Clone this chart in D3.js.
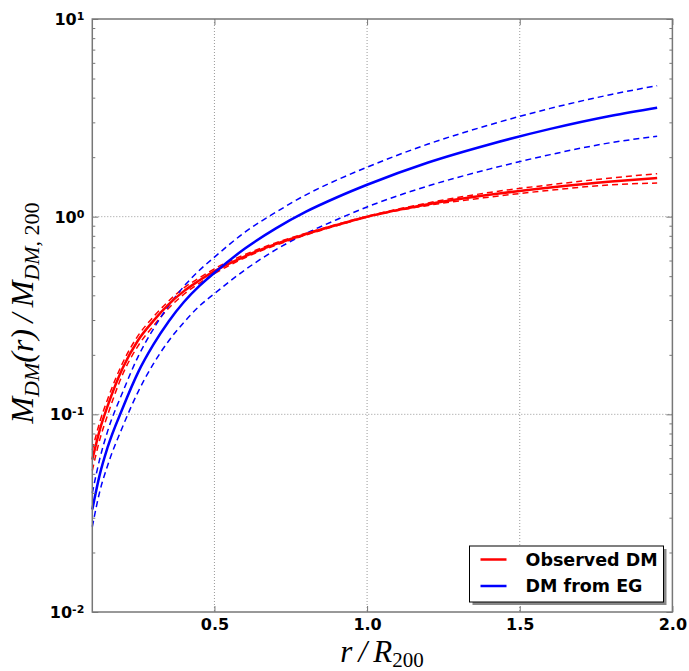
<!DOCTYPE html>
<meta charset="utf-8">
<style>
  body { margin: 0; background: #fff; }
  .tick text { font-family: "DejaVu Sans", sans-serif; font-weight: bold; font-size: 16px; fill: #000; }
  .axis path { display: none; }
  .axis line { stroke: #777; stroke-width: 1; }
  .grid line { stroke: #999; stroke-dasharray: 1,2; }
</style>
<body>
<script src="https://d3js.org/d3.v7.min.js"></script>
<script>

// radius in units of R200
var rVals = [0.1, 0.125, 0.15, 0.2, 0.25, 0.3, 0.35, 0.4, 0.45, 0.5, 0.6, 0.7, 0.8, 0.9, 1.0, 1.2, 1.4, 1.6, 1.8, 1.95];

// observed DM (red) with upper/lower band
var redMid = [0.059, 0.084, 0.110, 0.172, 0.237, 0.297, 0.360, 0.420, 0.475, 0.530, 0.630, 0.726, 0.816, 0.907, 1.0, 1.157, 1.29, 1.405, 1.507, 1.57];
var redHi  = [0.066, 0.092, 0.119, 0.183, 0.250, 0.311, 0.374, 0.436, 0.490, 0.545, 0.643, 0.737, 0.824, 0.913, 1.005, 1.174, 1.325, 1.45, 1.57, 1.65];
var redLo  = [0.052, 0.075, 0.099, 0.160, 0.222, 0.280, 0.344, 0.405, 0.460, 0.515, 0.620, 0.716, 0.808, 0.900, 0.995, 1.14, 1.256, 1.36, 1.45, 1.48];

// DM from EG (blue) with upper/lower band
var blueMid = [0.033, 0.050, 0.068, 0.108, 0.163, 0.225, 0.295, 0.370, 0.445, 0.520, 0.690, 0.870, 1.06, 1.25, 1.45, 1.88, 2.32, 2.78, 3.24, 3.56];
var blueHi  = [0.040, 0.060, 0.082, 0.130, 0.196, 0.270, 0.354, 0.444, 0.534, 0.624, 0.835, 1.05, 1.29, 1.53, 1.78, 2.33, 2.91, 3.53, 4.15, 4.60];
var blueLo  = [0.027, 0.041, 0.055, 0.087, 0.130, 0.180, 0.235, 0.292, 0.352, 0.408, 0.538, 0.679, 0.822, 0.965, 1.12, 1.43, 1.74, 2.06, 2.37, 2.55];

var xTicks = [0.5, 1.0, 1.5, 2.0];
var yTicks = [0.01, 0.1, 1, 10];
var yExp = {0.01: "-2", 0.1: "-1", 1: "0", 10: "1"};

var legendItems = [
  {label: "Observed DM", color: "red"},
  {label: "DM from EG", color: "blue"}
];

var W = 689, H = 671;
var margin = {top: 19, right: 16.6, bottom: 59, left: 92.3};
var w = W - margin.left - margin.right,
    h = H - margin.top - margin.bottom;

var svg = d3.select("body").append("svg")
    .attr("width", W)
    .attr("height", H);

var chart = svg.append("g")
    .attr("transform", "translate(" + margin.left + "," + margin.top + ")");

var x = d3.scaleLinear().domain([0.1, 2.0]).range([0, w]);
var y = d3.scaleLog().domain([0.01, 10]).range([h, 0]);

// minor log ticks
var minor = [];
[0.01, 0.1, 1].forEach(function(d) {
  for (var k = 2; k <= 9; k++) minor.push(d * k);
});

// grid
chart.append("g").attr("class", "grid")
  .selectAll("line").data([0.5, 1.0, 1.5]).enter().append("line")
  .attr("x1", d => x(d)).attr("x2", d => x(d)).attr("y1", 0).attr("y2", h);
chart.append("g").attr("class", "grid")
  .selectAll("line").data([0.1, 1]).enter().append("line")
  .attr("x1", 0).attr("x2", w).attr("y1", d => y(d)).attr("y2", d => y(d));

// lines
var line = d3.line()
    .x((d, i) => x(rVals[i]))
    .y(d => y(d))
    .curve(d3.curveMonotoneX);

var series = [
  {v: redHi, c: "red", dash: true},
  {v: redLo, c: "red", dash: true},
  {v: blueHi, c: "blue", dash: true},
  {v: blueLo, c: "blue", dash: true},
  {v: redMid, c: "red", dash: false},
  {v: blueMid, c: "blue", dash: false}
];

chart.selectAll("path.curve").data(series).enter().append("path")
  .attr("class", "curve")
  .attr("d", d => line(d.v))
  .attr("fill", "none")
  .attr("stroke", d => d.c)
  .attr("stroke-width", d => d.dash ? 1.5 : 2.5)
  .attr("stroke-dasharray", d => d.dash ? "6,4" : null);

// axes (ticks point inward)
chart.append("g").attr("class", "axis")
  .attr("transform", "translate(0," + h + ")")
  .call(d3.axisBottom(x).tickValues(xTicks).tickSize(-6).tickPadding(7).tickFormat(d3.format(".1f")));
chart.append("g").attr("class", "axis")
  .call(d3.axisTop(x).tickValues(xTicks).tickSize(-6).tickFormat(""));

var yl = chart.append("g").attr("class", "axis")
  .call(d3.axisLeft(y).tickValues(yTicks).tickSize(-6).tickPadding(8).tickFormat(""));
chart.append("g").attr("class", "axis")
  .call(d3.axisLeft(y).tickValues(minor).tickSize(-3).tickFormat(""));
chart.append("g").attr("class", "axis")
  .attr("transform", "translate(" + w + ",0)")
  .call(d3.axisRight(y).tickValues(yTicks).tickSize(-6).tickFormat(""));
chart.append("g").attr("class", "axis")
  .attr("transform", "translate(" + w + ",0)")
  .call(d3.axisRight(y).tickValues(minor).tickSize(-3).tickFormat(""));

// 10^n labels
yl.selectAll(".tick text").each(function(d) {
  var t = d3.select(this).attr("dy", "0.35em");
  t.append("tspan").text("10");
  t.append("tspan").attr("dy", "-0.45em").attr("font-size", "11px").text(yExp[d]);
});

// frame
chart.append("rect")
  .attr("width", w).attr("height", h)
  .attr("fill", "none").attr("stroke", "#777").attr("stroke-width", 1.5);

// legend
var lg = svg.append("g").attr("transform", "translate(469.5,546)");
lg.append("rect").attr("x", 3).attr("y", 3).attr("width", 194).attr("height", 56).attr("fill", "#888");
lg.append("rect").attr("width", 194).attr("height", 56).attr("fill", "#fff").attr("stroke", "#000").attr("stroke-width", 1);
var li = lg.selectAll("g.item").data(legendItems).enter().append("g")
  .attr("class", "item")
  .attr("transform", (d, i) => "translate(0," + (13.5 + i * 26.5) + ")");
li.append("line").attr("x1", 11).attr("x2", 37).attr("stroke", d => d.color).attr("stroke-width", 2.5);
li.append("text").attr("x", 56).attr("dy", "0.35em")
  .style("font-family", "DejaVu Sans, sans-serif").style("font-weight", "bold").style("font-size", "17.5px")
  .text(d => d.label);

// axis labels
var xlab = svg.append("text")
  .attr("x", 382).attr("y", 662)
  .attr("text-anchor", "middle")
  .style("font-family", "Liberation Serif, serif").style("font-style", "italic").style("font-size", "31px");
xlab.append("tspan").text("r\u2009/\u2009R");
xlab.append("tspan").attr("dy", "5").style("font-style", "normal").style("font-size", "21px").text("200");

var ylab = svg.append("text")
  .attr("transform", "translate(33,313) rotate(-90)")
  .attr("text-anchor", "middle")
  .style("font-family", "Liberation Serif, serif").style("font-style", "italic").style("font-size", "32px");
ylab.append("tspan").text("M");
ylab.append("tspan").attr("dy", "6").style("font-size", "22px").text("DM");
ylab.append("tspan").attr("dy", "-6").text("(r)\u2009/\u2009M");
ylab.append("tspan").attr("dy", "6").style("font-size", "22px").text("DM,");
ylab.append("tspan").style("font-size", "22px").style("font-style", "normal").text(" 200");

</script>
</body>
